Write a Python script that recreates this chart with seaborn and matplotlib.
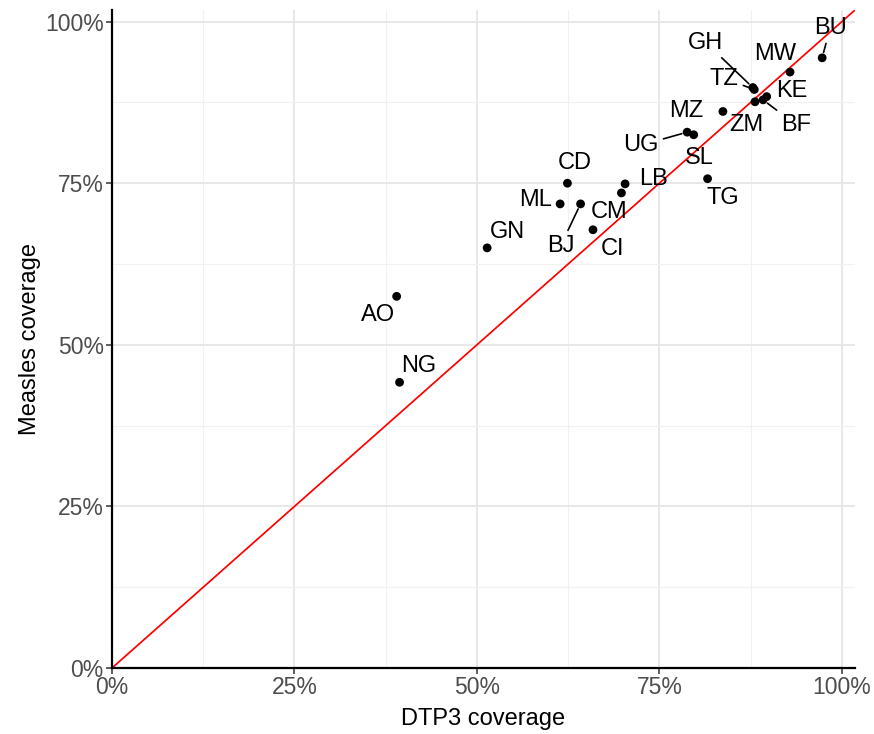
import matplotlib
matplotlib.use("Agg")
import matplotlib.pyplot as plt
import seaborn as sns
import pandas as pd
from matplotlib.ticker import FuncFormatter, MultipleLocator

# ---- data ----
countries = ["BU", "MW", "GH", "TZ", "KE", "ZM", "BF", "MZ", "UG", "SL",
             "TG", "LB", "CM", "CD", "ML", "BJ", "CI", "GN", "AO", "NG"]
dtp3 = [0.973, 0.929, 0.878, 0.880, 0.897, 0.881, 0.892, 0.837, 0.788, 0.797,
        0.816, 0.703, 0.698, 0.624, 0.614, 0.642, 0.659, 0.514, 0.390, 0.394]
measles = [0.944, 0.922, 0.898, 0.895, 0.884, 0.876, 0.879, 0.861, 0.829, 0.825,
           0.757, 0.749, 0.735, 0.750, 0.718, 0.718, 0.678, 0.650, 0.575, 0.442]

df = pd.DataFrame({"country": countries, "dtp3": dtp3, "measles": measles})

# label placement (pixel offsets, x right / y down) and whether a segment is drawn
label_offsets = {
    "BU": (8, -30, True), "MW": (-15, -18, False), "GH": (-47, -45, True),
    "TZ": (-30, -11, True), "KE": (25, -6, False), "ZM": (-9, 23, False),
    "BF": (33, 25, True), "MZ": (-37, 0, False), "UG": (-46, 13, True),
    "SL": (6, 23, False), "TG": (15, 19, False), "LB": (28, -5, False),
    "CM": (-12, 19, False), "CD": (7, -20, False), "ML": (-25, -4, False),
    "BJ": (-20, 42, True), "CI": (20, 19, False), "GN": (20, -16, False),
    "AO": (-19, 19, False), "NG": (19, -16, False),
}

sns.set_theme(style="whitegrid")
plt.rcParams["font.family"] = ["Liberation Sans", "DejaVu Sans"]

fig = plt.figure(figsize=(8.74, 7.34), dpi=100)
ax = fig.add_axes([112 / 874, 66 / 734, 743 / 874, 658 / 734])
ax.set_facecolor("white")

ax.axline((0, 0), slope=1, color="#FF0000", lw=1.25, zorder=2)
sns.scatterplot(data=df, x="dtp3", y="measles", ax=ax, color="black",
                s=40, edgecolor="none", zorder=3, legend=False)

for c, x, y in zip(countries, dtp3, measles):
    dx, dy, seg = label_offsets[c]
    kw = {}
    if seg:
        kw["arrowprops"] = dict(arrowstyle="-", color="black", lw=1.2,
                                shrinkA=1, shrinkB=4)
    ax.annotate(c, xy=(x, y), xytext=(dx, -dy), textcoords="offset pixels",
                ha="center", va="center", fontsize=17, color="black",
                zorder=4, **kw)

ax.set_xlim(0, 1.018)
ax.set_ylim(0, 1.018)
pct = FuncFormatter(lambda v, p: f"{v * 100:.0f}%")
for axis in (ax.xaxis, ax.yaxis):
    axis.set_major_locator(MultipleLocator(0.25))
    axis.set_minor_locator(MultipleLocator(0.125))
    axis.set_major_formatter(pct)

ax.grid(which="major", color="#E6E6E6", lw=1.3)
ax.grid(which="minor", color="#F1F1F1", lw=0.8)
ax.set_axisbelow(True)

for s in ["top", "right"]:
    ax.spines[s].set_visible(False)
for s in ["left", "bottom"]:
    ax.spines[s].set_color("black")
    ax.spines[s].set_linewidth(1.6)

ax.tick_params(axis="both", which="major", length=4, width=1.1, color="#333333",
               labelsize=16.5, labelcolor="#4D4D4D", pad=2, left=True, bottom=True)
ax.tick_params(axis="both", which="minor", length=0)

ax.set_xlabel("DTP3 coverage", fontsize=17, color="black", labelpad=6)
ax.set_ylabel("Measles coverage", fontsize=17, color="black", labelpad=3)

fig.savefig("out.png", dpi=100)
